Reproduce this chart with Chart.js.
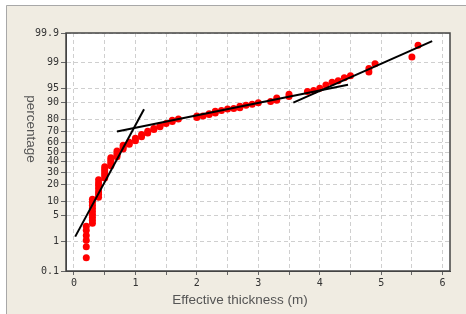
<!DOCTYPE html>
<html>
<head>
<meta charset="utf-8">
<script src="https://cdn.jsdelivr.net/npm/chart.js@4/dist/chart.umd.min.js"></script>
<style>
  html, body { margin: 0; padding: 0; background: #ffffff; }
  #wrap { width: 466px; height: 314px; }
</style>
</head>
<body>
<div id="wrap"><canvas id="probChart" width="466" height="314"></canvas></div>
<script>
// measured points: thickness (m) and cumulative percentage
var thickness = [
    0.2, 0.2, 0.2, 0.2, 0.2, 0.2,
    0.3, 0.3, 0.3, 0.3, 0.3, 0.3, 0.3, 0.3, 0.3,
    0.4, 0.4, 0.4, 0.4, 0.4, 0.4, 0.4,
    0.5, 0.5, 0.5, 0.5, 0.5, 0.5,
    0.6, 0.6, 0.6, 0.6, 0.6,
    0.7, 0.7, 0.7, 0.7,
    0.8, 0.8, 0.8,
    0.9, 0.9, 1.0, 1.0, 1.1, 1.1, 1.2, 1.2, 1.3, 1.3, 1.4, 1.4,
    1.5, 1.6, 1.6, 1.7,
    2.0, 2.0, 2.1, 2.2, 2.2, 2.3, 2.3, 2.4, 2.5, 2.6, 2.7, 2.7, 2.8, 2.9, 3.0,
    3.2, 3.3, 3.3, 3.5, 3.5,
    3.8, 3.9, 4.0, 4.1, 4.2, 4.3, 4.4, 4.5,
    4.8, 4.8, 4.9, 5.5, 5.6
];
var percent = [
    0.3, 0.7, 1.1, 1.5, 2.1, 2.7,
    3.2, 3.8, 4.5, 5.3, 6.2, 7.2, 8.3, 9.6, 11.0,
    12, 13.5, 15, 17, 19, 21, 23.5,
    25, 27, 29, 31, 33, 35,
    36, 38, 40, 42, 44,
    45, 47, 49, 51,
    53, 55, 57,
    58, 60, 61.5, 64, 65.5, 67.5, 69, 70.5, 72, 73, 74.5, 75.5,
    77, 78.5, 79.5, 80.5,
    81.5, 82.5, 82.5, 83.5, 84, 84.5, 85.5, 86, 86.8, 87, 87.5, 88.3, 88.8, 89.3, 90,
    90.5, 91, 92, 92.5, 93.3,
    94.2, 94.5, 95.1, 95.9, 96.5, 96.8, 97.3, 97.6,
    98.1, 98.5, 98.9, 99.32, 99.72
];

// fitted segments (end points)
var lineAx = [0.02, 1.14];
var lineAy = [1.4, 86.7];
var lineBx = [0.70, 4.46];
var lineBy = [70.2, 95.95];
var lineCx = [3.57, 5.83];
var lineCy = [90.0, 99.8];

var xTicks = [0, 0.5, 1, 1.5, 2, 2.5, 3, 3.5, 4, 4.5, 5, 5.5, 6];
var yTicks = [0.1, 1, 5, 10, 20, 30, 40, 50, 60, 70, 80, 90, 95, 99, 99.9];

// inverse normal cdf (Acklam)
function probit(p) {
    var a = [-39.69683028665376, 220.9460984245205, -275.9285104469687, 138.3577518672690, -30.66479806614716, 2.506628277459239];
    var b = [-54.47609879822406, 161.5858368580409, -155.6989798598866, 66.80131188771972, -13.28068155288572];
    var c = [-0.007784894002430293, -0.3223964580411365, -2.400758277161838, -2.549732539343734, 4.374664141464968, 2.938163982698783];
    var d = [0.007784695709041462, 0.3224671290700398, 2.445134137142996, 3.754408661907416];
    var q, r;
    if (p < 0.02425) {
        q = Math.sqrt(-2 * Math.log(p));
        return (((((c[0]*q+c[1])*q+c[2])*q+c[3])*q+c[4])*q+c[5]) / ((((d[0]*q+d[1])*q+d[2])*q+d[3])*q+1);
    }
    if (p > 1 - 0.02425) {
        q = Math.sqrt(-2 * Math.log(1 - p));
        return -(((((c[0]*q+c[1])*q+c[2])*q+c[3])*q+c[4])*q+c[5]) / ((((d[0]*q+d[1])*q+d[2])*q+d[3])*q+1);
    }
    q = p - 0.5;
    r = q * q;
    return (((((a[0]*r+a[1])*r+a[2])*r+a[3])*r+a[4])*r+a[5])*q / (((((b[0]*r+b[1])*r+b[2])*r+b[3])*r+b[4])*r+1);
}

// normal probability axis (values in percent)
class ProbitScale extends Chart.Scale {
    determineDataLimits() {
        this.min = this.options.min;
        this.max = this.options.max;
    }
    buildTicks() {
        return yTicks.map(function (v) { return { value: v }; });
    }
    configure() {
        super.configure();
        this._zMin = probit(this.min / 100);
        this._zMax = probit(this.max / 100);
    }
    getLabelForValue(v) {
        return String(v);
    }
    getPixelForValue(v) {
        return this.getPixelForDecimal((probit(v / 100) - this._zMin) / (this._zMax - this._zMin));
    }
    getValueForPixel(px) {
        return this.getDecimalForPixel(px);
    }
}
ProbitScale.id = 'probit';
ProbitScale.defaults = {};
Chart.register(ProbitScale);

var points = thickness.map(function (x, i) { return { x: x, y: percent[i] }; });
function seg(xs, ys) { return xs.map(function (x, i) { return { x: x, y: ys[i] }; }); }

var framePlugin = {
    id: 'frame',
    beforeDraw: function (chart) {
        var ctx = chart.ctx, a = chart.chartArea;
        ctx.save();
        ctx.fillStyle = '#ffffff';
        ctx.fillRect(0, 0, chart.width, chart.height);
        ctx.fillStyle = '#f0ece2';
        ctx.fillRect(6, 5, chart.width - 6, chart.height - 5);
        ctx.strokeStyle = '#a8a8a8';
        ctx.lineWidth = 1;
        ctx.beginPath();
        ctx.moveTo(6.5, chart.height);
        ctx.lineTo(6.5, 5.5);
        ctx.lineTo(chart.width, 5.5);
        ctx.stroke();
        ctx.fillStyle = '#ffffff';
        ctx.fillRect(a.left, a.top, a.right - a.left, a.bottom - a.top);
        ctx.restore();
    },
    afterDraw: function (chart) {
        var ctx = chart.ctx, a = chart.chartArea;
        ctx.save();
        ctx.strokeStyle = '#444444';
        ctx.lineWidth = 1.5;
        ctx.strokeRect(a.left, a.top, a.right - a.left, a.bottom - a.top);
        ctx.fillStyle = '#555555';
        ctx.font = '13.5px "Liberation Sans", Arial, sans-serif';
        ctx.textAlign = 'center';
        ctx.textBaseline = 'middle';
        ctx.fillText('Effective thickness (m)', 240, 300);
        ctx.translate(31, 129);
        ctx.rotate(Math.PI / 2);
        ctx.fillText('percentage', 0, 0);
        ctx.restore();
    }
};

var tickFont = { family: '"DejaVu Sans Mono", monospace', size: 10 };

var probChart = new Chart(document.getElementById('probChart'), {
    type: 'scatter',
    data: {
        datasets: [
            { data: seg(lineAx, lineAy), showLine: true, borderColor: '#000000', borderWidth: 2, pointRadius: 0, order: 0 },
            { data: seg(lineBx, lineBy), showLine: true, borderColor: '#000000', borderWidth: 2, pointRadius: 0, order: 0 },
            { data: seg(lineCx, lineCy), showLine: true, borderColor: '#000000', borderWidth: 2, pointRadius: 0, order: 0 },
            { data: points, backgroundColor: '#ff0000', borderWidth: 0, pointRadius: 3.5, order: 1 }
        ]
    },
    options: {
        responsive: false,
        animation: false,
        layout: { padding: { left: 0, top: 33, right: 16, bottom: 0 } },
        plugins: { legend: { display: false }, tooltip: { enabled: false } },
        scales: {
            x: {
                type: 'linear',
                min: -0.13,
                max: 6.12,
                afterBuildTicks: function (s) { s.ticks = xTicks.map(function (v) { return { value: v }; }); },
                afterFit: function (s) { s.height = 43; },
                ticks: {
                    autoSkip: false,
                    maxRotation: 0,
                    padding: 2,
                    color: '#333333',
                    font: tickFont,
                    callback: function (v) { return v % 1 === 0 ? String(v) : ''; }
                },
                grid: { color: '#cfcfcf', tickLength: 4, tickColor: '#666666' },
                border: { display: true, color: '#444444', dash: [4, 3] }
            },
            y: {
                type: 'probit',
                min: 0.1,
                max: 99.9,
                afterFit: function (s) { s.width = 66; },
                ticks: {
                    autoSkip: false,
                    padding: 2,
                    color: '#333333',
                    font: tickFont,
                    callback: function (v) { return String(v); }
                },
                grid: { color: '#cfcfcf', tickLength: 5, tickColor: '#666666' },
                border: { display: true, color: '#444444', dash: [4, 3] }
            }
        }
    },
    plugins: [framePlugin]
});
</script>
</body>
</html>
